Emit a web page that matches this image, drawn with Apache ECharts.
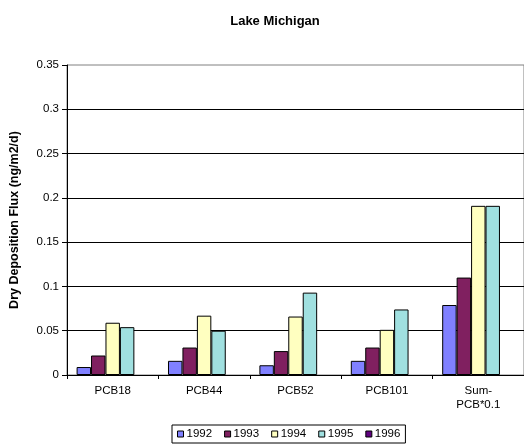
<!DOCTYPE html>
<html>
<head>
<meta charset="utf-8">
<script src="https://cdn.jsdelivr.net/npm/echarts@6/dist/echarts.min.js"></script>
<style>html,body{margin:0;padding:0;background:#fff;}#c{width:524px;height:448px;}</style>
</head>
<body>
<div id="c"></div>
<script>
const categories = ['PCB18', 'PCB44', 'PCB52', 'PCB101', 'Sum-\nPCB*0.1'];
const years = ['1992', '1993', '1994', '1995', '1996'];
const v1992 = [0.009, 0.016, 0.011, 0.016, 0.079];
const v1993 = [0.022, 0.031, 0.027, 0.031, 0.110];
const v1994 = [0.059, 0.067, 0.066, 0.051, 0.191];
const v1995 = [0.054, 0.050, 0.093, 0.074, 0.191];
const v1996 = [null, null, null, null, null];
const yTicks = { min: 0, max: 0.35, interval: 0.05 };
const colors = ['#8080FF', '#802060', '#FFFFC0', '#A0E0E0', '#600080'];

const seriesData = [v1992, v1993, v1994, v1995, v1996];
const font = 'Liberation Sans, Arial, sans-serif';
const chart = echarts.init(document.getElementById('c'), null, { renderer: 'canvas' });
chart.setOption({
  animation: false,
  backgroundColor: '#fff',
  textStyle: { fontFamily: font },
  title: {
    text: 'Lake Michigan', left: 270, top: 10, textAlign: 'center',
    textStyle: { fontFamily: font, fontSize: 13, fontWeight: 'bold', color: '#000' }
  },
  legend: {
    data: years, left: 172, top: 425, icon: 'rect', itemWidth: 6, itemHeight: 6, itemGap: 12,
    padding: [3, 5, 3, 5], borderColor: '#000', borderWidth: 1,
    textStyle: { fontFamily: font, fontSize: 11.5, color: '#000', padding: [0, 0, 0, -2] },
    itemStyle: { borderColor: '#000', borderWidth: 1 }
  },
  grid: { left: 62, top: 65, width: 463, height: 310, show: true, borderColor: '#808080', borderWidth: 1, backgroundColor: 'transparent' },
  xAxis: {
    type: 'category', data: categories,
    axisLine: { lineStyle: { color: '#000', width: 1 } },
    axisTick: { show: true, length: 4, lineStyle: { color: '#000' } },
    axisLabel: { color: '#000', fontSize: 11.5, fontFamily: font, margin: 9, interval: 0, lineHeight: 14 }
  },
  yAxis: {
    type: 'value', min: yTicks.min, max: yTicks.max, interval: yTicks.interval,
    name: 'Dry Deposition Flux (ng/m2/d)', nameLocation: 'middle', nameGap: 46,
    nameTextStyle: { fontFamily: font, fontSize: 12.5, fontWeight: 'bold', color: '#000' },
    axisLine: { show: true, lineStyle: { color: '#000', width: 1 } },
    axisTick: { show: true, length: 5, lineStyle: { color: '#000' } },
    axisLabel: { color: '#000', fontSize: 11.5, fontFamily: font, margin: 8 },
    splitLine: { show: true, showMaxLine: false, lineStyle: { color: '#000', width: 1 } }
  },
  series: years.map((y, i) => ({
    name: y, type: 'bar', data: seriesData[i], barGap: '0%', barCategoryGap: '21%',
    itemStyle: { color: colors[i], borderColor: '#000', borderWidth: 1 }
  }))
});
</script>
</body>
</html>
